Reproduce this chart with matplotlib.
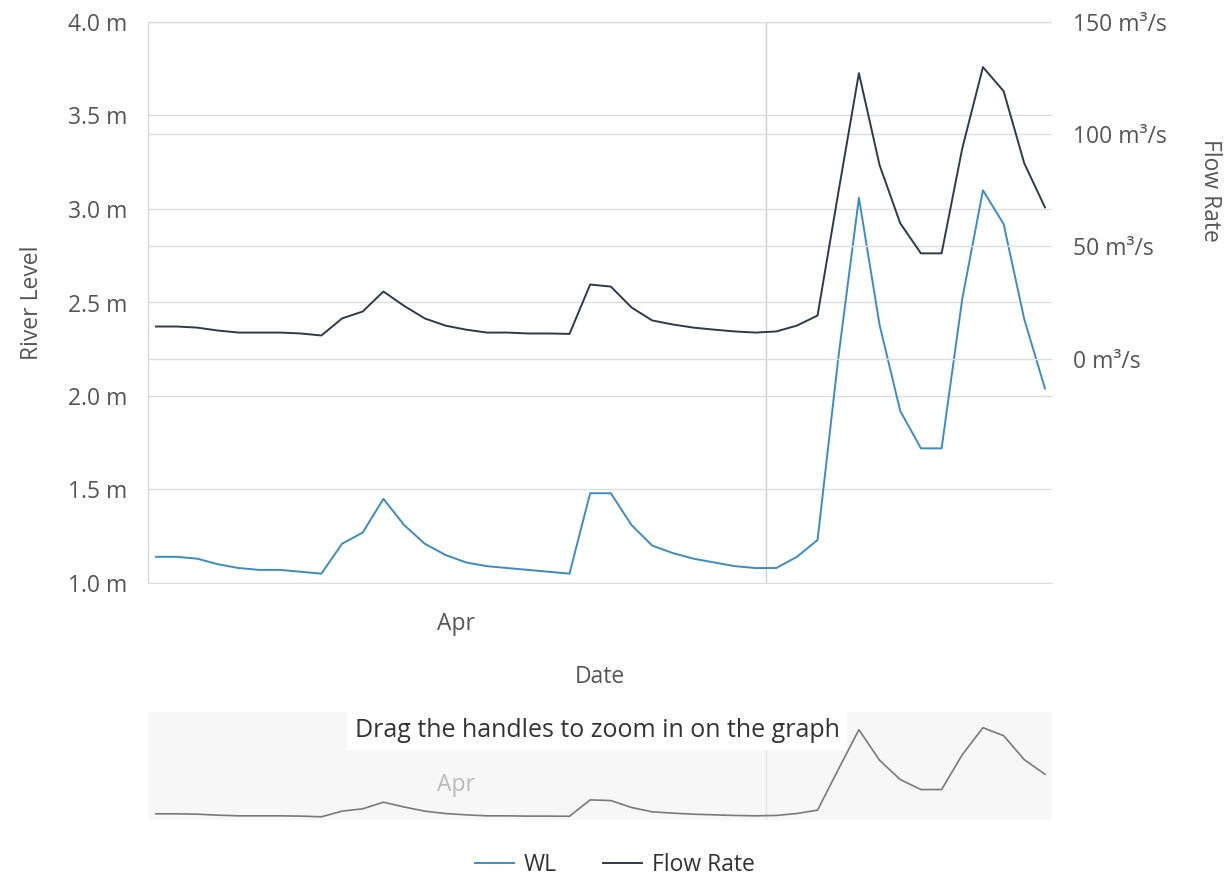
import numpy as np
import pandas as pd
import matplotlib
matplotlib.use("Agg")
import matplotlib.pyplot as plt
import matplotlib.dates as mdates
import matplotlib.transforms as mtransforms
from matplotlib.lines import Line2D
from matplotlib.ticker import FuncFormatter, NullFormatter

# daily readings, 1 Apr - 14 May
dates = pd.date_range("2021-04-01 12:00", periods=44, freq="D")

wl = [1.14, 1.14, 1.13, 1.10, 1.08, 1.07, 1.07, 1.06, 1.05, 1.21,
      1.27, 1.45, 1.31, 1.21, 1.15, 1.11, 1.09, 1.08, 1.07, 1.06,
      1.05, 1.48, 1.48, 1.31, 1.20, 1.16, 1.13, 1.11, 1.09, 1.08,
      1.08, 1.14, 1.23, 2.20, 3.06, 2.38, 1.92, 1.72, 1.72, 2.52,
      3.10, 2.92, 2.41, 2.04]

flow = [14.3, 14.3, 13.8, 12.5, 11.6, 11.6, 11.6, 11.2, 10.3, 17.9,
        21.0, 29.9, 23.5, 17.9, 14.7, 12.9, 11.6, 11.6, 11.2, 11.2,
        11.0, 33.0, 32.1, 22.8, 17.0, 15.2, 13.8, 12.9, 12.1, 11.6,
        12.1, 14.7, 19.2, 73.7, 127.2, 86.2, 60.3, 46.9, 46.9, 93.7,
        129.9, 119.2, 87.0, 67.4]

level_ticks = [1.0, 1.5, 2.0, 2.5, 3.0, 3.5, 4.0]
flow_ticks = [0, 50, 100, 150]

WL_COLOR = "#3a8dc4"
FLOW_COLOR = "#2c3a4b"
TEXT = "#555555"
GRID = "#dddddd"
FS = 16.5

plt.rcParams['font.family'] = ['Open Sans', 'DejaVu Sans']
plt.rcParams['font.size'] = FS

fig = plt.figure(figsize=(12.3, 8.9), dpi=100)
W, H = 1230, 890

def box(l, t, r, b):
    return [l / W, (H - b) / H, (r - l) / W, (b - t) / H]

x0 = pd.Timestamp("2021-04-01 02:42")
x1 = pd.Timestamp("2021-05-14 20:10")

# main chart
ax = fig.add_axes(box(148, 22, 1052, 583))
ax.plot(dates, wl, color=WL_COLOR, lw=1.4, zorder=3)
ax.set_xlim(x0, x1)
ax.set_ylim(1.0, 4.0)
ax.set_yticks(level_ticks)
ax.yaxis.set_major_formatter(FuncFormatter(lambda v, p: f"{v:.1f} m"))
ax.xaxis.set_major_locator(mdates.MonthLocator())
ax.xaxis.set_major_formatter(NullFormatter())
ax.xaxis.set_minor_locator(mdates.MonthLocator(bymonthday=16))
ax.xaxis.set_minor_formatter(mdates.DateFormatter("%b"))
ax.grid(True, which="major", color=GRID, lw=1)
ax.xaxis.grid(True, which="major", color="#cfcfcf", lw=1)
ax.tick_params(axis="both", which="both", length=0, colors=TEXT, labelsize=FS)
ax.tick_params(axis="y", pad=15)
ax.tick_params(axis="x", which="minor", pad=21)
for s in ["top", "right"]:
    ax.spines[s].set_visible(False)
ax.spines["left"].set_color("#d0d0d0")
ax.spines["bottom"].set_color(GRID)
ax.set_xlabel("Date", color=TEXT, fontsize=FS, va="center")
ax.xaxis.set_label_coords(0.5, -0.167)
ax.set_ylabel("River Level", color=TEXT, fontsize=FS, va="center")
ax.yaxis.set_label_coords(-0.1285, 0.5)

ax2 = ax.twinx()
ax2.plot(dates, flow, color=FLOW_COLOR, lw=1.4, zorder=3)
ax2.set_ylim(-100, 150)
ax2.set_yticks(flow_ticks)
ax2.yaxis.set_major_formatter(FuncFormatter(lambda v, p: f"{v:.0f} m\u00b3/s"))
ax2.yaxis.grid(True, color=GRID, lw=1)
ax2.tick_params(axis="y", length=0, colors=TEXT, labelsize=FS, pad=15)
for s in ax2.spines.values():
    s.set_visible(False)
ax2.set_ylabel("Flow Rate", color=TEXT, fontsize=FS, rotation=270, va="center")
ax2.yaxis.set_label_coords(1.175, 0.70)

# scrollbar preview
nav = fig.add_axes(box(148, 712, 1052, 820))
nav.set_facecolor("#f7f7f7")
nav.plot(dates, flow, color="#7a7a7a", lw=1.2)
nav.set_xlim(x0, x1)
nav.set_ylim(6, 151)
nav.xaxis.set_major_locator(mdates.MonthLocator())
nav.xaxis.set_major_formatter(NullFormatter())
nav.grid(True, axis="x", color="#e6e6e6", lw=1)
nav.tick_params(length=0)
nav.set_yticks([])
for s in nav.spines.values():
    s.set_visible(False)
trans = mtransforms.blended_transform_factory(nav.transData, nav.transAxes)
nav.text(pd.Timestamp("2021-04-16"), 0.32, "Apr", transform=trans, ha="center",
         va="center", color="#bbbbbb", fontsize=FS)
nav.text(0.497, 0.833, "Drag the handles to zoom in on the graph", transform=nav.transAxes,
         ha="center", va="center", color="#333333", fontsize=18,
         bbox=dict(facecolor="white", edgecolor="none", boxstyle="square,pad=0.3"))

handles = [Line2D([], [], color=WL_COLOR, lw=1.4), Line2D([], [], color=FLOW_COLOR, lw=1.4)]
fig.legend(handles, ["WL", "Flow Rate"], loc="center", bbox_to_anchor=(0.5, (H - 865) / H),
           ncol=2, frameon=False, handlelength=1.7, handletextpad=0.45, columnspacing=2.0,
           fontsize=FS, labelcolor="#333333")

fig.savefig("out.png", dpi=100)
